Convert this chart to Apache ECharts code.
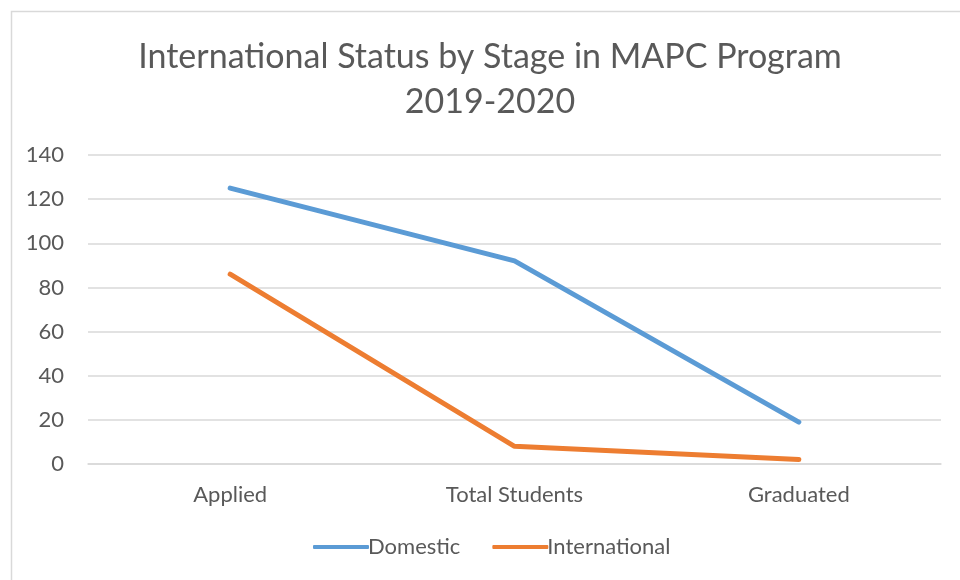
<!DOCTYPE html>
<html>
<head>
<meta charset="utf-8">
<script src="https://cdn.jsdelivr.net/npm/echarts@6/dist/echarts.min.js"></script>
<style>
  html, body { margin: 0; padding: 0; background: #fff; }
  #chart { width: 960px; height: 580px; }
</style>
</head>
<body>
<div id="chart"></div>
<script>
// data
const stages = ['Applied', 'Total Students', 'Graduated'];
const domestic = [125, 92, 19];
const international = [86, 8, 2];

const textColor = '#595959';
const fontName = 'Lato';

var chart = echarts.init(document.getElementById('chart'));
var option = {
    backgroundColor: '#fff',
    title: {
        text: 'International Status by Stage in MAPC Program\n2019-2020',
        left: 485,
        textAlign: 'center',
        top: 30,
        textStyle: {
            fontFamily: fontName,
            fontWeight: 'normal',
            fontSize: 34,
            lineHeight: 45,
            color: textColor
        }
    },
    legend: {
        bottom: 17,
        left: 308,
        itemWidth: 56,
        itemHeight: 4,
        itemGap: 32,
        icon: 'roundRect',
        textStyle: { fontFamily: fontName, fontSize: 22, color: textColor, padding: [0, 0, 0, -6] },
        data: ['Domestic', 'International']
    },
    grid: {
        left: 88,
        right: 19,
        top: 155,
        bottom: 116
    },
    xAxis: {
        type: 'category',
        data: stages,
        boundaryGap: true,
        axisLine: { lineStyle: { color: '#d9d9d9', width: 1.5 } },
        axisTick: { show: false },
        axisLabel: { fontFamily: fontName, fontSize: 22, color: textColor, margin: 20 }
    },
    yAxis: {
        type: 'value',
        min: 0,
        max: 140,
        interval: 20,
        axisLine: { show: false },
        axisTick: { show: false },
        splitLine: { lineStyle: { color: '#d9d9d9', width: 1.5 } },
        axisLabel: { fontFamily: fontName, fontSize: 22, color: textColor, margin: 24 }
    },
    series: [
        {
            name: 'Domestic',
            type: 'line',
            data: domestic,
            symbol: 'none',
            color: '#5B9BD5',
            lineStyle: { width: 5, cap: 'round' }
        },
        {
            name: 'International',
            type: 'line',
            data: international,
            symbol: 'none',
            color: '#ED7D31',
            lineStyle: { width: 5, cap: 'round' }
        }
    ],
    graphic: [{
        type: 'rect',
        shape: { x: 11.5, y: 11.5, width: 1000, height: 1000 },
        style: { fill: 'none', stroke: '#d9d9d9', lineWidth: 1.5 },
        silent: true
    }]
};
chart.setOption(option);
</script>
</body>
</html>
